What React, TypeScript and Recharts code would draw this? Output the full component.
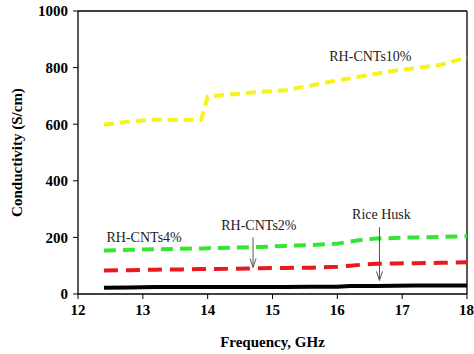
import React from 'react';
import {
  LineChart,
  Line,
  XAxis,
  YAxis,
  ReferenceLine,
  ReferenceDot,
  Label,
} from 'recharts';

// frequency points (GHz)
const freq = [12.4, 12.8, 13.2, 13.6, 13.9, 14.0, 14.4, 14.8, 15.2, 15.6, 16.0, 16.2, 16.4, 16.6, 16.9, 17.2, 17.6, 18.0];

// conductivity (S/cm) per sample
const cnt10 = [598, 610, 616, 615, 616, 698, 706, 714, 720, 737, 755, 762, 770, 778, 790, 798, 810, 836];
const cnt4 = [154, 156, 158, 160, 161, 162, 164, 166, 170, 173, 178, 185, 192, 196, 198, 200, 202, 204];
const cnt2 = [83, 84, 86, 87, 88, 88, 89, 91, 92, 93, 96, 100, 104, 107, 108, 109, 110, 112];
const riceHusk = [22, 23, 25, 25, 25, 25, 25, 25, 25, 26, 26, 28, 28, 28, 29, 30, 30, 30];

const xTicks = [12, 13, 14, 15, 16, 17, 18];
const yTicks = [0, 200, 400, 600, 800, 1000];

// text labels placed in data coordinates
const notes = [
  { x: 16.51, y: 840, text: 'RH-CNTs10%' },
  { x: 13.02, y: 200, text: 'RH-CNTs4%' },
  { x: 14.79, y: 243, text: 'RH-CNTs2%' },
  { x: 16.68, y: 282, text: 'Rice Husk' },
];

// arrows: from (x, y1) down to (x, y2)
const arrows = [
  { x: 14.7, y1: 200, y2: 94 },
  { x: 16.65, y1: 236, y2: 48 },
];

const data = freq.map((f, i) => ({
  f,
  c10: cnt10[i],
  c4: cnt4[i],
  c2: cnt2[i],
  rh: riceHusk[i],
}));

const FONT = '"Liberation Serif", "Times New Roman", serif';

const ArrowShape = (props: any) => {
  const { x1, y1, x2, y2 } = props;
  return (
    <g>
      <line x1={x1} y1={y1} x2={x2} y2={y2} stroke="#555" strokeWidth={1} />
      <polyline
        points={`${x2 - 3},${y2 - 9} ${x2},${y2} ${x2 + 3},${y2 - 9}`}
        fill="none"
        stroke="#555"
        strokeWidth={1}
      />
    </g>
  );
};

export default function App() {
  return (
    <div style={{ position: 'absolute', left: 0, top: 0, width: 474, height: 354, background: '#fff' }}>
      <LineChart
        width={474}
        height={354}
        data={data}
        margin={{ top: 11, right: 7, left: 0, bottom: 0 }}
        style={{ fontFamily: FONT }}
      >
        <XAxis
          dataKey="f"
          type="number"
          domain={[12, 18]}
          ticks={xTicks}
          height={60}
          stroke="#000"
          tickSize={5}
          tickMargin={5}
          tick={{ fill: '#000', fontSize: 15, fontWeight: 'bold', fontFamily: FONT }}
          axisLine={{ stroke: '#000', strokeWidth: 1.3 }}
        >
          <Label
            value="Frequency, GHz"
            position="insideBottom"
            offset={7}
            style={{ fill: '#000', fontSize: 15, fontWeight: 'bold', fontFamily: FONT }}
          />
        </XAxis>
        <YAxis
          type="number"
          domain={[0, 1000]}
          ticks={yTicks}
          width={78}
          stroke="#000"
          tickSize={5}
          tickMargin={5}
          tick={{ fill: '#000', fontSize: 15, fontWeight: 'bold', fontFamily: FONT }}
          axisLine={{ stroke: '#000', strokeWidth: 1.3 }}
        >
          <Label
            value="Conductivity (S/cm)"
            angle={-90}
            position="insideLeft"
            offset={17}
            style={{ textAnchor: 'middle', fill: '#000', fontSize: 15, fontWeight: 'bold', fontFamily: FONT }}
          />
        </YAxis>

        <ReferenceLine y={1000} stroke="#000" strokeWidth={1.3} />
        <ReferenceLine x={18} stroke="#000" strokeWidth={1.3} />

        <Line dataKey="rh" stroke="#000" strokeWidth={4} dot={false} type="linear" isAnimationActive={false} />
        <Line dataKey="c2" stroke="#e8191f" strokeWidth={4} strokeDasharray="14 8" dot={false} type="linear" isAnimationActive={false} />
        <Line dataKey="c4" stroke="#33e633" strokeWidth={4} strokeDasharray="12 7" dot={false} type="linear" isAnimationActive={false} />
        <Line dataKey="c10" stroke="#f7f21a" strokeWidth={4} strokeDasharray="10 6" dot={false} type="linear" isAnimationActive={false} />

        {arrows.map((a, i) => (
          <ReferenceLine
            key={`arrow-${i}`}
            segment={[{ x: a.x, y: a.y1 }, { x: a.x, y: a.y2 }]}
            shape={ArrowShape}
          />
        ))}

        {notes.map((n, i) => (
          <ReferenceDot key={`note-${i}`} x={n.x} y={n.y} r={0} stroke="none" fill="none">
            <Label
              value={n.text}
              position="center"
              style={{ fill: '#222', fontSize: 14, fontFamily: FONT }}
            />
          </ReferenceDot>
        ))}
      </LineChart>
    </div>
  );
}
